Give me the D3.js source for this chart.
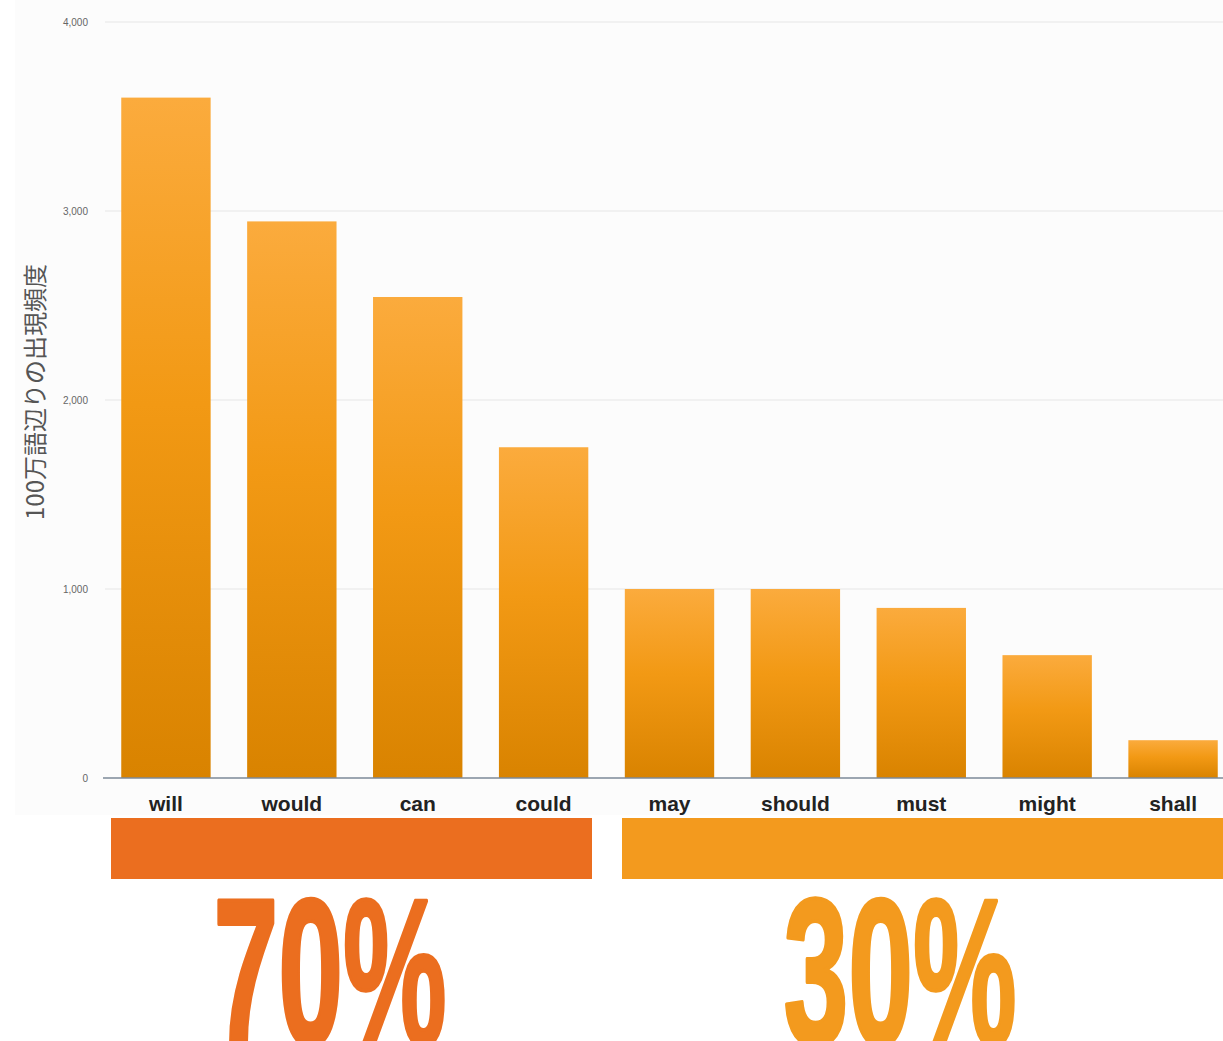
<!DOCTYPE html>
<html>
<head>
<meta charset="utf-8">
<script src="https://cdn.jsdelivr.net/npm/d3@7"></script>
<style>
  body { margin: 0; background: #fff; }
  svg { display: block; }
</style>
</head>
<body>
<svg></svg>
<script>
// modal verbs, frequency per million words
const verbs = ["will", "would", "can", "could", "may", "should", "must", "might", "shall"];
const freq = [3600, 2945, 2545, 1750, 1000, 1000, 900, 650, 200];
const yTicks = [0, 1000, 2000, 3000, 4000];
const groupLabels = ["70%", "30%"];
const yTitle = "100万語辺りの出現頻度";

const svgWidth = 1223;
const svgHeight = 1041;

const svg = d3.select("svg")
    .attr("width", svgWidth)
    .attr("height", svgHeight);

const margin = {top: 22, left: 103, bottom: 263};
const plotBottom = svgHeight - margin.bottom;

const x = d3.scaleBand()
    .domain(verbs)
    .range([margin.left, margin.left + 1133])
    .paddingInner(0.29)
    .paddingOuter(0.145);

const y = d3.scaleLinear()
    .domain([0, 4000])
    .range([plotBottom, margin.top]);

// light panel behind the chart
svg.append("rect")
    .attr("x", 15).attr("y", 0)
    .attr("width", svgWidth - 15).attr("height", 815)
    .attr("fill", "#fcfcfc");

const defs = svg.append("defs");
const grad = defs.append("linearGradient")
    .attr("id", "barGrad")
    .attr("x1", 0).attr("y1", 0).attr("x2", 0).attr("y2", 1);
grad.append("stop").attr("offset", "0%").attr("stop-color", "#fbab3d");
grad.append("stop").attr("offset", "45%").attr("stop-color", "#f29914");
grad.append("stop").attr("offset", "100%").attr("stop-color", "#d98300");

// grid lines
svg.append("g")
    .selectAll("line")
    .data(yTicks.filter(d => d > 0))
    .enter()
    .append("line")
    .attr("x1", 105).attr("x2", svgWidth)
    .attr("y1", d => y(d)).attr("y2", d => y(d))
    .attr("stroke", "#eeeeee")
    .attr("stroke-width", 1.5);

// y axis labels
const yAxis = svg.append("g")
    .attr("transform", "translate(" + (margin.left - 12) + ",0)")
    .call(d3.axisLeft(y).tickValues(yTicks).tickSize(0).tickFormat(d3.format(",")));
yAxis.select(".domain").remove();
yAxis.selectAll("text")
    .attr("fill", "#666")
    .style("font-family", "'Liberation Sans', Arial, sans-serif")
    .style("font-size", "10px");

// bars
svg.append("g")
    .selectAll("rect")
    .data(verbs)
    .enter()
    .append("rect")
    .attr("x", d => x(d))
    .attr("y", (d, i) => y(freq[i]))
    .attr("width", x.bandwidth())
    .attr("height", (d, i) => plotBottom - y(freq[i]))
    .attr("fill", "url(#barGrad)");

// baseline
svg.append("line")
    .attr("x1", margin.left).attr("x2", svgWidth)
    .attr("y1", plotBottom).attr("y2", plotBottom)
    .attr("stroke", "#7d8a99")
    .attr("stroke-width", 1.5);

// category labels
svg.append("g")
    .selectAll("text")
    .data(verbs)
    .enter()
    .append("text")
    .attr("x", d => x(d) + x.bandwidth() / 2)
    .attr("y", 811)
    .attr("text-anchor", "middle")
    .attr("fill", "#222")
    .style("font-family", "'Liberation Sans', Arial, sans-serif")
    .style("font-weight", "bold")
    .style("font-size", "21px")
    .text(d => d);

// y title
svg.append("text")
    .attr("transform", "translate(44,392) rotate(-90)")
    .attr("text-anchor", "middle")
    .attr("fill", "#555")
    .style("font-family", "'Noto Sans CJK JP', sans-serif")
    .style("font-size", "24px")
    .text(yTitle);

// group bands and percentages
const groupColors = ["#eb6e1f", "#f39a1e"];
const bandBounds = [[111, 592], [622, svgWidth]];
const textCenters = [330, 900];

groupLabels.forEach((lab, i) => {
    svg.append("rect")
        .attr("x", bandBounds[i][0])
        .attr("y", 818)
        .attr("width", bandBounds[i][1] - bandBounds[i][0])
        .attr("height", 61)
        .attr("fill", groupColors[i]);

    svg.append("text")
        .attr("transform", "translate(" + textCenters[i] + ",1044) scale(0.56,1)")
        .attr("text-anchor", "middle")
        .attr("fill", groupColors[i])
        .attr("stroke", groupColors[i])
        .attr("stroke-width", 4)
        .attr("stroke-linejoin", "round")
        .style("font-family", "'Liberation Sans', Arial, sans-serif")
        .style("font-weight", "bold")
        .style("font-size", "208px")
        .text(lab);
});
</script>
</body>
</html>
